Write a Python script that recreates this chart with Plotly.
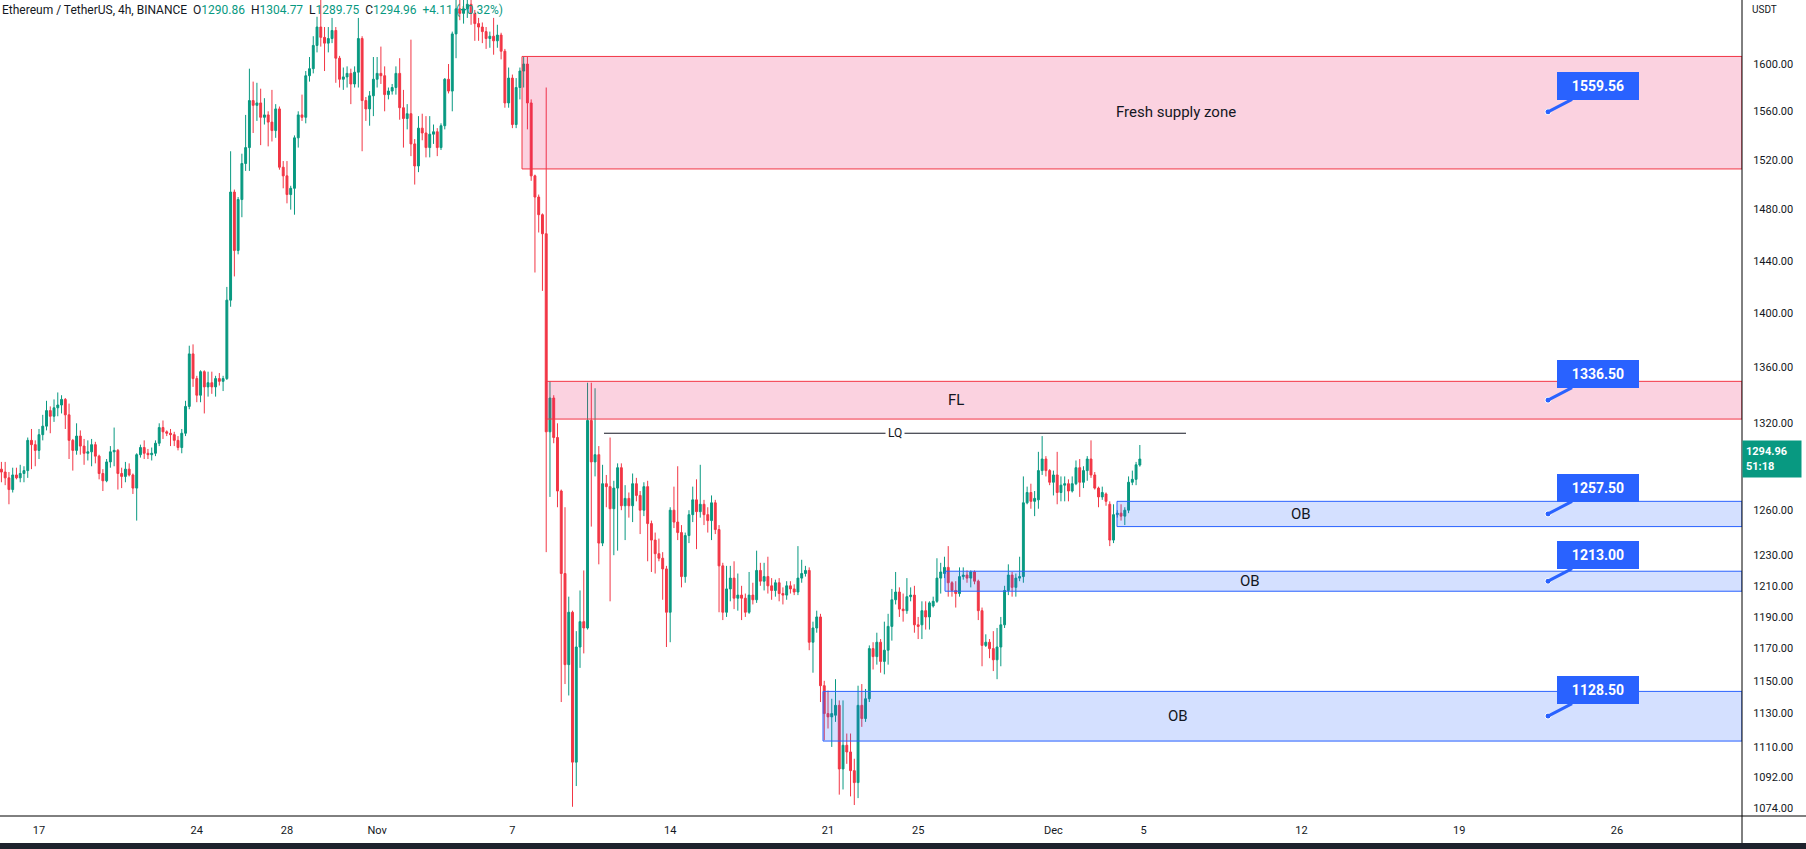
import math
import pandas as pd
import plotly.graph_objects as go

# ---------------- data ----------------
first_bar = "2022-10-15 08:00"

opens = [
    1288,1286,1282,1274,1284,1282,1285,1287,1308,1305,
    1301,1312,1318,1329,1325,1331,1333,1337,1326,1308,
    1301,1311,1304,1299,1300,1305,1297,1285,1280,1293,
    1300,1301,1285,1283,1288,1284,1275,1298,1303,1299,
    1298,1299,1306,1317,1314,1313,1312,1308,1303,1313,
    1332,1370,1352,1340,1357,1346,1349,1346,1352,1350,
    1352,1410,1494,1448,1488,1517,1530,1569,1565,1567,
    1555,1557,1551,1544,1562,1514,1507,1492,1497,1538,
    1557,1555,1590,1596,1616,1632,1623,1618,1622,1629,
    1605,1587,1589,1592,1583,1593,1622,1569,1562,1573,
    1587,1592,1590,1574,1577,1580,1592,1563,1554,1558,
    1533,1515,1546,1542,1530,1541,1543,1530,1548,1587,
    1577,1626,1648,1644,1648,1652,1644,1635,1632,1628,
    1622,1624,1620,1625,1611,1567,1588,1549,1580,1594,
    1600,1567,1507,1490,1476,1461,1314,1338,1310,1273,
    1218,1160,1193,1101,1171,1187,1183,1322,1293,1298,
    1238,1278,1276,1261,1275,1289,1263,1268,1263,1278,
    1270,1260,1276,1251,1240,1231,1228,1221,1193,1260,
    1252,1245,1216,1243,1257,1267,1259,1264,1257,1253,
    1265,1247,1223,1193,1208,1215,1202,1204,1202,1193,
    1204,1201,1220,1213,1216,1210,1207,1212,1205,1204,
    1210,1208,1206,1215,1218,1220,1174,1183,1190,1147,
    1130,1128,1129,1135,1097,1111,1107,1096,1089,1135,
    1127,1139,1170,1165,1174,1162,1169,1184,1201,1206,
    1195,1194,1203,1204,1185,1185,1194,1190,1197,1200,
    1215,1218,1222,1212,1207,1205,1216,1217,1215,1219,
    1213,1194,1172,1174,1170,1163,1171,1185,1207,1217,
    1209,1215,1216,1265,1272,1266,1267,1287,1295,1287,
    1279,1284,1272,1277,1278,1273,1278,1289,1279,1287,
    1295,1284,1275,1269,1271,1264,1240,1257,1258,1256,
    1260,1279,1281,1290.86,
]

highs = [
    1293,1293,1286,1289,1289,1291,1290,1310,1316,1308,
    1316,1326,1336,1332,1337,1342,1340,1338,1334,1309,
    1320,1315,1309,1308,1309,1307,1298,1288,1295,1304,
    1317,1302,1289,1293,1292,1285,1299,1305,1308,1302,
    1303,1308,1320,1322,1315,1316,1314,1311,1316,1336,
    1376,1377,1354,1358,1358,1357,1357,1354,1356,1354,
    1420,1527,1496,1490,1525,1557,1596,1585,1584,1579,
    1571,1560,1578,1566,1564,1519,1519,1499,1540,1560,
    1574,1594,1606,1624,1641,1660,1632,1632,1640,1632,
    1607,1597,1598,1596,1598,1640,1624,1572,1577,1606,
    1606,1615,1598,1580,1583,1598,1605,1578,1566,1621,
    1537,1556,1558,1556,1556,1549,1546,1550,1588,1600,
    1628,1660,1660,1660,1662,1662,1647,1640,1636,1632,
    1628,1640,1634,1627,1613,1597,1591,1588,1597,1606,
    1606,1570,1508,1492,1477,1580,1350,1340,1320,1274,
    1262,1203,1194,1181,1207,1220,1349,1349,1345,1304,
    1291,1284,1310,1280,1292,1292,1277,1272,1285,1282,
    1273,1279,1280,1253,1245,1241,1232,1223,1262,1276,
    1290,1250,1245,1260,1276,1281,1291,1267,1262,1270,
    1267,1250,1225,1223,1223,1226,1218,1210,1205,1219,
    1212,1233,1225,1225,1229,1215,1214,1215,1209,1213,
    1213,1211,1236,1227,1223,1222,1187,1194,1192,1150,
    1144,1139,1151,1138,1138,1118,1118,1103,1147,1148,
    1145,1172,1174,1180,1176,1187,1192,1208,1219,1209,
    1205,1215,1209,1210,1190,1200,1200,1200,1203,1228,
    1225,1229,1236,1213,1213,1222,1222,1220,1220,1220,
    1214,1196,1179,1176,1181,1183,1190,1210,1224,1219,
    1218,1229,1283,1276,1278,1273,1300,1311,1297,1288,
    1287,1300,1283,1283,1281,1283,1294,1295,1290,1297,
    1308,1286,1276,1276,1272,1266,1264,1260,1264,1262,
    1283,1287,1293,1304.77,
]

lows = [
    1279,1277,1264,1272,1281,1279,1279,1282,1288,1290,
    1295,1308,1315,1313,1321,1325,1327,1316,1295,1287,
    1298,1298,1291,1294,1290,1292,1281,1273,1279,1289,
    1290,1274,1275,1279,1283,1271,1253,1296,1295,1295,
    1294,1297,1304,1309,1311,1304,1304,1301,1299,1311,
    1330,1346,1335,1335,1327,1339,1341,1339,1347,1343,
    1351,1405,1428,1445,1474,1511,1511,1542,1552,1532,
    1549,1531,1535,1538,1512,1497,1485,1480,1476,1530,
    1552,1550,1585,1592,1610,1615,1594,1610,1618,1584,
    1580,1578,1580,1566,1580,1580,1527,1552,1548,1556,
    1580,1583,1560,1570,1574,1574,1553,1530,1545,1523,
    1500,1510,1536,1522,1522,1533,1523,1528,1545,1575,
    1560,1605,1638,1635,1640,1634,1620,1620,1618,1613,
    1614,1608,1614,1604,1563,1563,1546,1546,1570,1580,
    1545,1503,1431,1462,1417,1232,1269,1306,1262,1137,
    1148,1141,1075,1087,1158,1167,1182,1249,1283,1224,
    1236,1262,1200,1230,1233,1260,1240,1255,1252,1266,
    1244,1256,1226,1219,1218,1226,1201,1171,1174,1248,
    1240,1209,1212,1238,1252,1234,1255,1250,1245,1240,
    1244,1193,1188,1190,1200,1195,1194,1188,1190,1192,
    1198,1199,1210,1207,1205,1201,1203,1200,1198,1201,
    1205,1204,1204,1212,1216,1169,1155,1180,1137,1114,
    1121,1110,1125,1082,1085,1100,1081,1076,1080,1122,
    1125,1137,1157,1160,1155,1154,1160,1175,1198,1190,
    1187,1192,1200,1180,1176,1176,1182,1182,1196,1199,
    1205,1215,1203,1203,1196,1203,1214,1212,1209,1211,
    1188,1159,1171,1164,1156,1151,1159,1183,1204,1203,
    1203,1213,1212,1264,1261,1256,1261,1284,1283,1277,
    1270,1264,1266,1266,1266,1272,1277,1269,1275,1280,
    1282,1274,1262,1267,1263,1236,1238,1255,1253,1250,
    1258,1277,1277,1289.75,
]

closes = [
    1286,1282,1274,1284,1282,1285,1287,1308,1305,1301,
    1312,1318,1329,1325,1331,1333,1337,1326,1308,1301,
    1311,1304,1299,1300,1305,1297,1285,1280,1293,1300,
    1301,1285,1283,1288,1284,1275,1298,1303,1299,1298,
    1299,1306,1317,1314,1313,1312,1308,1303,1313,1332,
    1370,1352,1340,1357,1346,1349,1346,1352,1350,1352,
    1410,1494,1448,1488,1517,1530,1569,1565,1567,1555,
    1557,1551,1544,1562,1514,1507,1492,1497,1538,1557,
    1555,1590,1596,1616,1632,1623,1618,1622,1629,1605,
    1587,1589,1592,1583,1593,1622,1569,1562,1573,1587,
    1592,1590,1574,1577,1580,1592,1563,1554,1558,1533,
    1515,1546,1542,1530,1541,1543,1530,1548,1587,1577,
    1626,1648,1644,1648,1652,1644,1635,1632,1628,1622,
    1624,1620,1625,1611,1567,1588,1549,1580,1594,1600,
    1567,1507,1490,1476,1461,1314,1338,1310,1273,1218,
    1160,1193,1101,1171,1187,1183,1322,1293,1298,1238,
    1278,1276,1261,1275,1289,1263,1268,1263,1278,1270,
    1260,1276,1251,1240,1231,1228,1221,1193,1260,1252,
    1245,1216,1243,1257,1267,1259,1264,1257,1253,1265,
    1247,1223,1193,1208,1215,1202,1204,1202,1193,1204,
    1201,1220,1213,1216,1210,1207,1212,1205,1204,1210,
    1208,1206,1215,1218,1220,1174,1183,1190,1147,1130,
    1128,1130,1135,1097,1111,1107,1096,1089,1135,1127,
    1139,1170,1165,1174,1162,1169,1184,1201,1206,1195,
    1194,1203,1204,1185,1184,1194,1190,1199,1200,1215,
    1219,1222,1212,1207,1205,1216,1217,1215,1219,1213,
    1194,1172,1174,1170,1163,1171,1185,1207,1217,1209,
    1215,1216,1265,1272,1266,1268,1287,1295,1287,1279,
    1284,1272,1277,1278,1273,1278,1289,1279,1287,1295,
    1284,1275,1269,1272,1266,1240,1257,1258,1256,1260,
    1279,1281,1291,1294.96,
]

tick_dates = ["2022-10-17", "2022-10-24", "2022-10-28", "2022-11-01", "2022-11-07",
              "2022-11-14", "2022-11-21", "2022-11-25", "2022-12-01", "2022-12-05",
              "2022-12-12", "2022-12-19", "2022-12-26"]
tick_labels = ["17", "24", "28", "Nov", "7", "14", "21", "25", "Dec", "5", "12", "19", "26"]

price_ticks = [1074, 1092, 1110, 1130, 1150, 1170, 1190, 1210, 1230, 1260,
               1320, 1360, 1400, 1440, 1480, 1520, 1560, 1600]

zone_names = ["Fresh supply zone", "FL", "OB", "OB", "OB"]
zone_tops = [1606.5, 1350.0, 1266.0, 1219.5, 1143.5]
zone_bottoms = [1512.6, 1323.0, 1249.0, 1206.5, 1113.5]
zone_starts = ["2022-11-07 10:14", "2022-11-08 11:47", "2022-12-03 19:41",
               "2022-11-26 04:34", "2022-11-20 18:41"]
zone_kinds = ["supply", "supply", "demand", "demand", "demand"]
zone_callouts = [1559.56, 1336.50, 1257.50, 1213.00, 1128.50]

lq_price = 1313.0
lq_start = "2022-11-11 01:31"
lq_end = "2022-12-06 21:09"

symbol_text = "Ethereum / TetherUS, 4h, BINANCE"
change_text = "+4.11 (+0.32%)"
countdown = "51:18"

# ---------------- styling / layout constants ----------------
UP = "#089981"
DOWN = "#f23645"
TXT = "#131722"
BLUE = "#2962ff"
FONT = "Roboto"

x_start = "2022-10-15 06:29"
x_end = "2022-12-31 13:05"
y_lo, y_hi = 1069.7, 1655.8

zone_text_x = ["2022-12-06 10:29", "2022-11-26 16:17", "2022-12-11 23:34",
               "2022-12-09 17:17", "2022-12-06 12:38"]
callout_x = "2022-12-22 22:34"

dates = pd.date_range(first_bar, periods=len(closes), freq="4h")

fig = go.Figure()

fig.add_trace(go.Candlestick(
    x=dates, open=opens, high=highs, low=lows, close=closes,
    increasing=dict(line=dict(color=UP, width=1), fillcolor=UP),
    decreasing=dict(line=dict(color=DOWN, width=1), fillcolor=DOWN),
    whiskerwidth=0, showlegend=False, hoverinfo="skip",
))

for name, top, bot, start, kind in zip(zone_names, zone_tops, zone_bottoms, zone_starts, zone_kinds):
    if kind == "supply":
        fill, edge = "rgba(233,30,99,0.2)", "#f23645"
    else:
        fill, edge = "rgba(41,98,255,0.2)", BLUE
    fig.add_trace(go.Scatter(
        x=[start, x_end, x_end, start, start],
        y=[bot, bot, top, top, bot],
        mode="lines", fill="toself", fillcolor=fill,
        line=dict(color=edge, width=1), showlegend=False, hoverinfo="skip",
    ))

fig.add_trace(go.Scatter(
    x=[lq_start, lq_end], y=[lq_price, lq_price], mode="lines",
    line=dict(color="#131722", width=1), showlegend=False, hoverinfo="skip",
))

fig.add_trace(go.Scatter(
    x=[callout_x] * len(zone_callouts), y=zone_callouts, mode="markers",
    marker=dict(size=6, color=BLUE, line=dict(color="white", width=1)),
    showlegend=False, hoverinfo="skip",
))

annotations = []

# zone texts
for name, top, bot, tx in zip(zone_names, zone_tops, zone_bottoms, zone_text_x):
    annotations.append(dict(
        x=tx, y=math.log10((top + bot) / 2), xref="x", yref="y",
        text=name, showarrow=False, font=dict(family=FONT, size=15, color=TXT),
    ))

# callouts
for val in zone_callouts:
    annotations.append(dict(
        x=callout_x, y=math.log10(val), xref="x", yref="y",
        text="<b>%.2f</b>" % val, showarrow=True, arrowhead=0, arrowwidth=3,
        arrowcolor=BLUE, ax=50, ay=-26, standoff=0,
        bgcolor=BLUE, bordercolor=BLUE, borderpad=3, width=74, height=20,
        font=dict(family=FONT, size=14, color="white"),
    ))

# LQ label
lq_mid = pd.Timestamp(lq_start) + (pd.Timestamp(lq_end) - pd.Timestamp(lq_start)) / 2
annotations.append(dict(
    x=lq_mid, y=math.log10(lq_price), xref="x", yref="y", text="LQ",
    showarrow=False, bgcolor="white", borderpad=2,
    font=dict(family=FONT, size=12, color=TXT),
))

# header legend
g = lambda v: "<span style='color:%s'>%s</span>" % (UP, v)
nb = "\u00a0\u00a0"
header = (symbol_text + nb + "O" + g("%.2f" % opens[-1]) + nb + "H" + g("%.2f" % highs[-1])
          + nb + "L" + g("%.2f" % lows[-1]) + nb + "C" + g("%.2f" % closes[-1]) + nb + g(change_text))
annotations.append(dict(
    x=0, y=1, xref="paper", yref="paper", xanchor="left", yanchor="top",
    text=header, showarrow=False, yshift=-1,
    font=dict(family=FONT, size=12, color=TXT),
))

# last price label
annotations.append(dict(
    x=1, y=math.log10(closes[-1]), xref="paper", yref="y", xanchor="left",
    text="<b>%.2f</b><br><b>%s</b>" % (closes[-1], countdown), align="left",
    showarrow=False, bgcolor=UP, borderpad=3, width=52, height=30,
    font=dict(family=FONT, size=11, color="white"),
))

# USDT
annotations.append(dict(
    x=1, y=1, xref="paper", yref="paper", xanchor="left", yanchor="top",
    text="USDT", showarrow=False, xshift=8, yshift=-2,
    font=dict(family=FONT, size=10, color=TXT),
))

W, H = 1806, 849
plot_w, plot_h = 1742, 816

shapes = [
    dict(type="rect", xref="paper", yref="paper", x0=0, x1=W / plot_w,
         y0=(plot_h - H) / plot_h, y1=(plot_h - 843) / plot_h,
         fillcolor="#1e222d", line=dict(width=0), layer="above"),
    dict(type="line", xref="paper", yref="paper", x0=1, x1=1,
         y0=(plot_h - 843) / plot_h, y1=1, line=dict(color="#000000", width=1)),
    dict(type="line", xref="paper", yref="paper", x0=0, x1=W / plot_w,
         y0=0, y1=0, line=dict(color="#000000", width=1)),
]

fig.update_layout(
    width=W, height=H,
    margin=dict(l=0, r=W - plot_w, t=0, b=H - plot_h),
    paper_bgcolor="white", plot_bgcolor="white",
    showlegend=False, boxgap=0.28,
    annotations=annotations, shapes=shapes,
    xaxis=dict(
        type="date", range=[x_start, x_end], rangeslider=dict(visible=False),
        tickvals=tick_dates, ticktext=tick_labels, showgrid=False, zeroline=False,
        showline=False, ticks="outside", ticklen=4, tickcolor="rgba(0,0,0,0)",
        tickfont=dict(family=FONT, size=11, color=TXT),
    ),
    yaxis=dict(
        type="log", side="right", range=[math.log10(y_lo), math.log10(y_hi)],
        tickvals=price_ticks, ticktext=["%.2f" % v for v in price_ticks],
        showgrid=False, zeroline=False, showline=False,
        ticks="outside", ticklen=8, tickcolor="rgba(0,0,0,0)",
        tickfont=dict(family=FONT, size=11, color=TXT),
    ),
)

fig.write_html("out.html")
